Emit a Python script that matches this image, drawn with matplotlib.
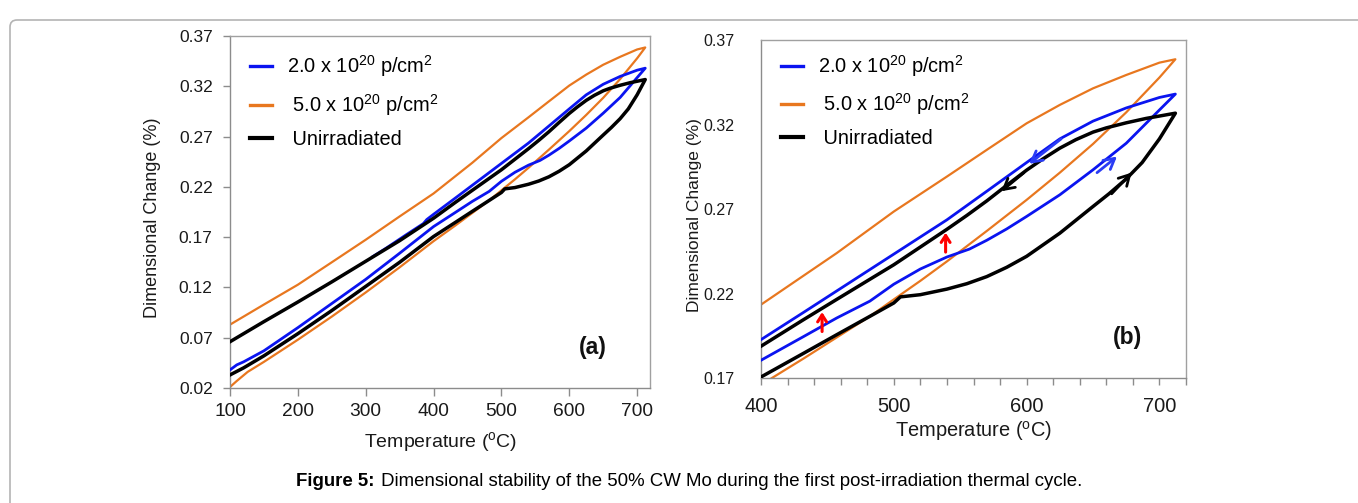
import matplotlib
matplotlib.use("Agg")
import matplotlib.pyplot as plt
import matplotlib.patches as patches
from matplotlib.ticker import MultipleLocator
from matplotlib.transforms import IdentityTransform

plt.rcParams['font.family'] = ['Liberation Sans', 'DejaVu Sans']
plt.rcParams['mathtext.fontset'] = 'custom'
plt.rcParams['mathtext.rm'] = 'Liberation Sans'
plt.rcParams['mathtext.it'] = 'Liberation Sans:italic'
plt.rcParams['mathtext.bf'] = 'Liberation Sans:bold'

# ---- data (temperature in C, dimensional change in %) ----
# unirradiated
unirr_heat_T = [100, 120, 150, 200, 250, 300, 350, 400, 432, 457, 482, 500, 505, 520, 540, 555, 570, 585, 600,
                625, 650, 662, 675, 687, 700, 712]
unirr_heat_v = [0.033, 0.040, 0.052, 0.074, 0.097, 0.121, 0.145, 0.1706, 0.1846, 0.1956, 0.2065, 0.2144, 0.218,
                0.2193, 0.2226, 0.2258, 0.2300, 0.2355, 0.2420, 0.2557, 0.2715, 0.2790, 0.2878, 0.2975, 0.3115, 0.3267]
unirr_cool_T = [712, 700, 690, 675, 660, 650, 637, 625, 612, 600, 585, 570, 555, 540, 520, 500, 457, 432, 400,
                350, 300, 250, 200, 150, 100]
unirr_cool_v = [0.3267, 0.3250, 0.3236, 0.3210, 0.3180, 0.3155, 0.3110, 0.3060, 0.2995, 0.2930, 0.2840, 0.2748,
                0.2662, 0.2580, 0.2475, 0.2370, 0.2165, 0.2045, 0.1888, 0.1665, 0.146, 0.1255, 0.1055, 0.086, 0.066]

# 2.0 x 10^20 p/cm2
low_heat_T = [100, 110, 120, 150, 200, 250, 300, 350, 400, 432, 457, 482, 500, 520, 540, 557, 570, 585, 600, 625,
              650, 675, 700, 712]
low_heat_v = [0.038, 0.043, 0.046, 0.057, 0.080, 0.104, 0.128, 0.154, 0.1805, 0.1945, 0.2055, 0.2155, 0.2255, 0.2345,
              0.2416, 0.2463, 0.2515, 0.2582, 0.2656, 0.2784, 0.2932, 0.3089, 0.3286, 0.338]
low_cool_T = [712, 700, 675, 650, 625, 600, 570, 540, 500, 457, 432, 400, 390, 385, 360, 330, 310]
low_cool_v = [0.338, 0.3360, 0.3298, 0.3220, 0.3115, 0.2975, 0.2805, 0.2636, 0.2433, 0.2215, 0.2088, 0.1927, 0.1875,
              0.1835, 0.1725, 0.159, 0.1505]

# 5.0 x 10^20 p/cm2
high_heat_T = [100, 110, 126, 150, 200, 250, 300, 350, 400, 432, 457, 482, 500, 520, 540, 570, 600, 625, 650, 675,
               700, 712]
high_heat_v = [0.021, 0.027, 0.036, 0.046, 0.068, 0.091, 0.115, 0.140, 0.166, 0.1815, 0.194, 0.2065, 0.2165, 0.2275,
               0.239, 0.257, 0.2754, 0.2915, 0.3085, 0.3272, 0.3478, 0.3586]
high_cool_T = [712, 700, 675, 650, 625, 600, 570, 540, 500, 457, 400, 350, 300, 250, 200, 150, 100]
high_cool_v = [0.3586, 0.3566, 0.3493, 0.3414, 0.3316, 0.3207, 0.305, 0.2892, 0.2685, 0.2439, 0.2134, 0.1906,
               0.1674, 0.145, 0.1227, 0.103, 0.083]

labels = [r'2.0 x 10$^{20}$ p/cm$^{2}$', r' 5.0 x 10$^{20}$ p/cm$^{2}$', ' Unirradiated']
colors = ['#0a14f0', '#e8771f', '#000000']

# direction arrows in panel (b): (start, end, colour)
arrows_b = [((626, 0.3115), (602, 0.2968), '#2a3cf5'),
            ((598, 0.2915), (581, 0.2805), '#000000'),
            ((653, 0.2915), (668, 0.3010), '#2a3cf5'),
            ((664, 0.2790), (679, 0.2915), '#000000'),
            ((446, 0.1975), (446, 0.2090), '#ff0000'),
            ((539, 0.2445), (539, 0.2560), '#ff0000')]

AX_COLOR = '#8c8c8c'
TICK_TXT = '#1a1a1a'


def draw_curves(ax, anchor):
    series = [(high_heat_T + high_cool_T, high_heat_v + high_cool_v, colors[1], 1.6, labels[1], 2),
              (low_heat_T + low_cool_T, low_heat_v + low_cool_v, colors[0], 2.0, labels[0], 3),
              (unirr_heat_T + unirr_cool_T, unirr_heat_v + unirr_cool_v, colors[2], 2.5, labels[2], 4)]
    lines = {}
    for T, v, c, lw, lab, z in series:
        ln, = ax.plot(T, v, color=c, lw=lw, label=lab, zorder=z, solid_joinstyle='round')
        lines[lab] = ln
    handles = [lines[labels[0]], lines[labels[1]], lines[labels[2]]]
    leg = ax.legend(handles, labels, loc='upper left', bbox_to_anchor=anchor, frameon=False,
                    fontsize=14.4, handlelength=1.1, handletextpad=0.75, labelspacing=0.62,
                    borderaxespad=0, borderpad=0)
    for h, lw in zip(leg.get_lines(), [2.4, 2.4, 3.0]):
        h.set_linewidth(lw)
    return leg


def style_axes(ax):
    for s in ax.spines.values():
        s.set_color('#a0a0a0')
        s.set_linewidth(1.0)
    ax.spines['left'].set_color(AX_COLOR)
    ax.spines['bottom'].set_color(AX_COLOR)


fig = plt.figure(figsize=(13.58, 5.03), dpi=100)

# outer frame with rounded top-left corner
frame = patches.FancyBboxPatch((10, -60), 1500, 553 - 10, boxstyle='round,pad=0,rounding_size=7',
                               transform=IdentityTransform(), fill=False, edgecolor='#b4b4b4', lw=1.2)
fig.patches.append(frame)

# ---------- panel (a) ----------
ax1 = fig.add_axes([230 / 1358, 1 - 388 / 503, 420 / 1358, 352 / 503])
draw_curves(ax1, (0.047, 0.95))
ax1.set_xlim(100, 719)
ax1.set_ylim(0.02, 0.37)
ax1.set_xticks([100, 200, 300, 400, 500, 600, 700])
ax1.set_yticks([0.02, 0.07, 0.12, 0.17, 0.22, 0.27, 0.32, 0.37])
ax1.set_yticklabels(['%.2f' % t for t in ax1.get_yticks()])
ax1.tick_params(axis='x', direction='out', length=6, width=1, color=AX_COLOR, pad=5,
                labelsize=13.8, labelcolor=TICK_TXT)
ax1.tick_params(axis='y', direction='out', length=5, width=1, color=AX_COLOR, pad=7.5,
                labelsize=12.5, labelcolor=TICK_TXT)
style_axes(ax1)
ax1.set_xlabel(r'Temperature ($^{\mathrm{o}}$C)', fontsize=14, color=TICK_TXT)
ax1.set_ylabel('Dimensional Change (%)', fontsize=13, color=TICK_TXT)
ax1.xaxis.set_label_coords(0.502, -0.118)
ax1.yaxis.set_label_coords(-0.165, 0.484)
ax1.text(634, 0.06, '(a)', fontsize=16.5, fontweight='bold', ha='center', va='center', color='#111111')

# ---------- panel (b) ----------
ax2 = fig.add_axes([761 / 1358, 1 - 378 / 503, 425 / 1358, 338 / 503])
draw_curves(ax2, (0.047, 0.962))
ax2.set_xlim(400, 720)
ax2.set_ylim(0.17, 0.37)
ax2.set_xticks([400, 500, 600, 700])
ax2.xaxis.set_minor_locator(MultipleLocator(20))
ax2.set_yticks([0.17, 0.22, 0.27, 0.32, 0.37])
ax2.set_yticklabels(['%.2f' % t for t in ax2.get_yticks()])
ax2.tick_params(axis='x', which='both', direction='out', length=5, width=1, color=AX_COLOR, pad=9,
                labelsize=14.5, labelcolor=TICK_TXT)
ax2.tick_params(axis='y', direction='out', length=0, width=1, color=AX_COLOR, pad=19,
                labelsize=11.5, labelcolor=TICK_TXT)
style_axes(ax2)
ax2.set_xlabel(r'Temperature ($^{\mathrm{o}}$C)', fontsize=14.4, color=TICK_TXT)
ax2.set_ylabel('Dimensional Change (%)', fontsize=12.5, color=TICK_TXT)
ax2.xaxis.set_label_coords(0.501, -0.122)
ax2.yaxis.set_label_coords(-0.14, 0.482)
ax2.text(676, 0.194, '(b)', fontsize=16.5, fontweight='bold', ha='center', va='center', color='#111111')

for (x0, y0), (x1, y1), c in arrows_b:
    if c == '#ff0000':
        style, lw = '->,head_length=0.5,head_width=0.32', 2.2
    else:
        style, lw = '->,head_length=0.75,head_width=0.42', 2.0
    ax2.annotate('', xy=(x1, y1), xytext=(x0, y0),
                 arrowprops=dict(arrowstyle=style, color=c, lw=lw, shrinkA=0, shrinkB=0), zorder=6)

# ---------- caption ----------
cap_y = 1 - 482 / 503
t1 = fig.text(296 / 1358, cap_y, 'Figure 5:', fontsize=13.4, fontweight='bold', ha='left', va='center')
fig.canvas.draw()
ext = t1.get_window_extent()
fig.text((ext.x1 + 1) / 1358, cap_y,
         ' Dimensional stability of the 50% CW Mo during the first post-irradiation thermal cycle.',
         fontsize=13.4, ha='left', va='center')

fig.savefig('out.png', dpi=100)
